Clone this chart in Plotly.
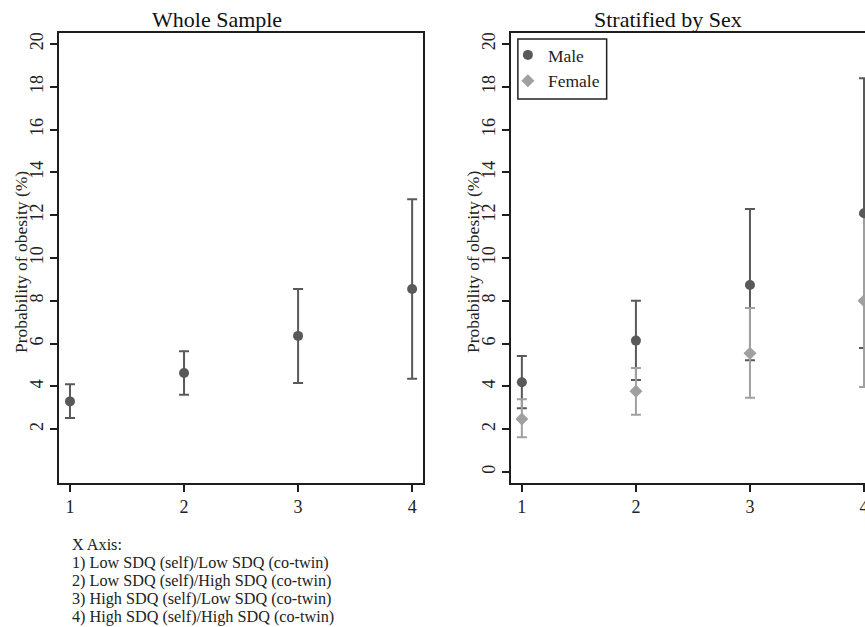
import plotly.graph_objects as go

# ---------------- data ----------------
groups = [1, 2, 3, 4]
group_labels = [
    "1) Low SDQ (self)/Low SDQ (co-twin)",
    "2) Low SDQ (self)/High SDQ (co-twin)",
    "3) High SDQ (self)/Low SDQ (co-twin)",
    "4) High SDQ (self)/High SDQ (co-twin)",
]

whole_est = [3.30, 4.63, 6.36, 8.55]
whole_lo = [2.52, 3.61, 4.16, 4.36]
whole_hi = [4.10, 5.64, 8.55, 12.74]

male_est = [4.19, 6.14, 8.74, 12.09]
male_lo = [2.98, 4.30, 5.22, 5.79]
male_hi = [5.42, 8.00, 12.29, 18.40]

female_est = [2.48, 3.77, 5.55, 8.00]
female_lo = [1.62, 2.68, 3.47, 3.97]
female_hi = [3.40, 4.86, 7.66, 12.03]

left_yticks = [2, 4, 6, 8, 10, 12, 14, 16, 18, 20]
right_yticks = [0, 2, 4, 6, 8, 10, 12, 14, 16, 18, 20]

# ---------------- style ----------------
FONT = "Liberation Serif"
DARK = "#595959"
LIGHT = "#a0a0a0"
AXC = "#1e1e1e"

# the figure is wider than the 865px window; the right panel is cut by the window edge
W, H = 877, 627
ML, MR, MT, MB = 59, 0, 33, 144
PW = W - ML - MR
PH = H - MT - MB


def px_x(p):
    return (p - ML) / PW


def px_y(p):
    return (H - MB - p) / PH


fig = go.Figure()


def err(est, lo, hi):
    return dict(
        type="data",
        symmetric=False,
        array=[h - e for h, e in zip(hi, est)],
        arrayminus=[e - l for e, l in zip(est, lo)],
    )


# Whole sample
fig.add_trace(go.Scatter(
    x=groups, y=whole_est, mode="markers", xaxis="x", yaxis="y",
    marker=dict(size=10, color=DARK, symbol="circle"),
    error_y=dict(**err(whole_est, whole_lo, whole_hi), color=DARK, thickness=2, width=5),
    showlegend=False,
))

# Stratified: CIs first (male, female), then points (male, female)
fig.add_trace(go.Scatter(
    x=groups, y=male_est, mode="markers", xaxis="x2", yaxis="y2",
    marker=dict(size=1, color="rgba(0,0,0,0)"),
    error_y=dict(**err(male_est, male_lo, male_hi), color=DARK, thickness=2, width=5),
    showlegend=False,
))
fig.add_trace(go.Scatter(
    x=groups, y=female_est, mode="markers", xaxis="x2", yaxis="y2",
    marker=dict(size=1, color="rgba(0,0,0,0)"),
    error_y=dict(**err(female_est, female_lo, female_hi), color=LIGHT, thickness=2, width=5),
    showlegend=False,
))
fig.add_trace(go.Scatter(
    x=groups, y=male_est, mode="markers", xaxis="x2", yaxis="y2",
    marker=dict(size=10, color=DARK, symbol="circle"),
    name="Male",
))
fig.add_trace(go.Scatter(
    x=groups, y=female_est, mode="markers", xaxis="x2", yaxis="y2",
    marker=dict(size=10, color=LIGHT, symbol="diamond"),
    name="Female",
))

unit = 114.33
x_rng = [1 - 11 / unit, 4 + 11 / unit]
yr = [-(483 - 472) / 21.4, 20 + (44 - 33) / 21.4]

axis_common = dict(
    showgrid=False, zeroline=False, showline=True, linecolor=AXC, linewidth=1.5,
    ticks="outside", ticklen=7, tickwidth=1.5, tickcolor=AXC,
    tickfont=dict(family=FONT, size=18, color="#222"),
    mirror=True,
)

fig.update_layout(
    width=W, height=H,
    margin=dict(l=ML, r=MR, t=MT, b=MB, pad=0),
    paper_bgcolor="white", plot_bgcolor="white",
    font=dict(family=FONT, color="#222"),
    xaxis=dict(domain=[0, px_x(424)], range=x_rng, tickvals=groups, **axis_common),
    yaxis=dict(domain=[0, 1], range=yr, tickvals=left_yticks, tickangle=-90,
               **axis_common),
    xaxis2=dict(domain=[px_x(512), 1], range=x_rng, tickvals=groups, anchor="y2",
                **axis_common),
    yaxis2=dict(domain=[0, 1], range=yr, tickvals=right_yticks, tickangle=-90,
                anchor="x2", **axis_common),
    legend=dict(
        x=px_x(509), y=px_y(37), xanchor="left", yanchor="top",
        borderwidth=0, bgcolor="rgba(0,0,0,0)",
        font=dict(family=FONT, size=17.5, color="#222"),
        itemwidth=30, tracegroupgap=4,
    ),
    shapes=[dict(type="rect", xref="paper", yref="paper",
                 x0=px_x(519), x1=px_x(608), y0=px_y(99), y1=px_y(39),
                 line=dict(color="#222", width=1.5), fillcolor="rgba(0,0,0,0)",
                 layer="above")],
)

ann = []
ann.append(dict(text="Whole Sample", x=px_x(217), y=px_y(19), xref="paper", yref="paper",
                showarrow=False, font=dict(family=FONT, size=22, color="#111"),
                xanchor="center", yanchor="middle"))
ann.append(dict(text="Stratified by Sex", x=px_x(669), y=px_y(19), xref="paper", yref="paper",
                showarrow=False, font=dict(family=FONT, size=22, color="#111"),
                xanchor="center", yanchor="middle"))
for xp in (21, 474):
    ann.append(dict(text="Probability of obesity (%)", x=px_x(xp), y=px_y(262),
                    xref="paper", yref="paper", showarrow=False, textangle=-90,
                    font=dict(family=FONT, size=17.5, color="#222"),
                    xanchor="center", yanchor="middle"))
cap_lines = ["X Axis:"] + group_labels
for i, line in enumerate(cap_lines):
    ann.append(dict(text=line, x=px_x(70), y=px_y(545 + i * 18.0), xref="paper", yref="paper",
                    showarrow=False, font=dict(family=FONT, size=16.2, color="#222"),
                    xanchor="left", yanchor="middle"))
fig.update_layout(annotations=ann)

fig.write_html(
    "out.html",
    config={"displayModeBar": False},
    post_script=("document.documentElement.style.overflow='hidden';"
                 "document.body.style.margin='0';"
                 "document.body.style.overflow='hidden';"),
)
